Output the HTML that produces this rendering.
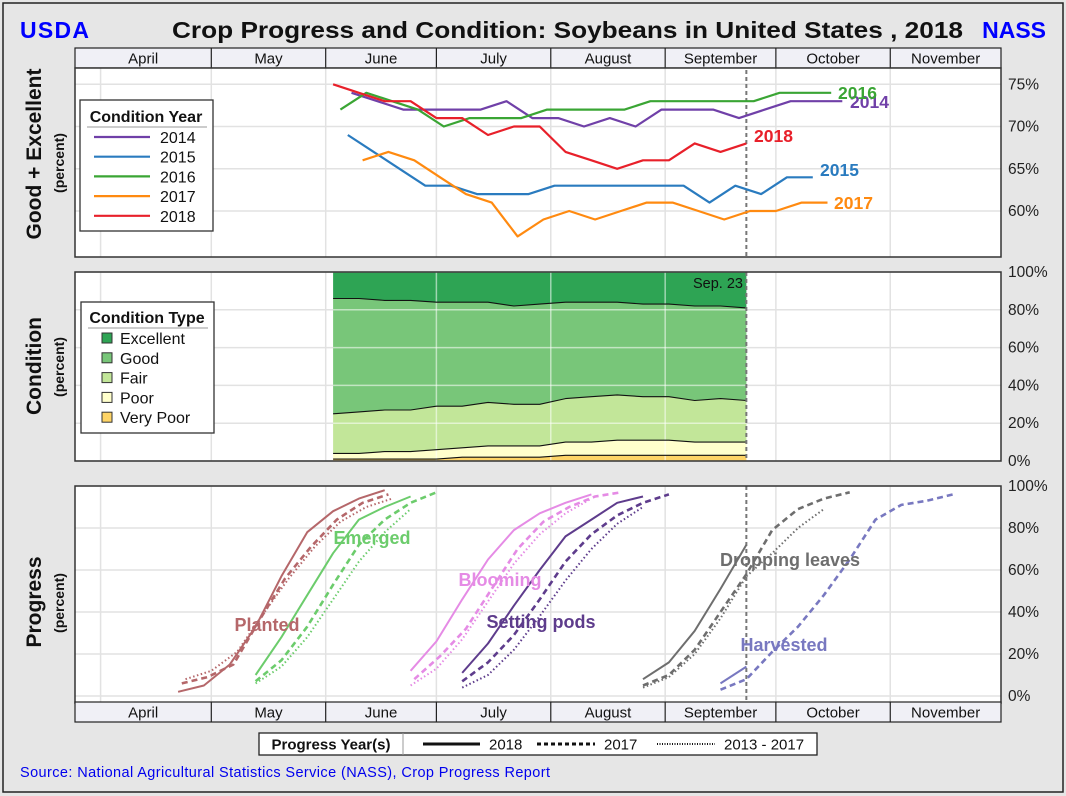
<!DOCTYPE html>
<html><head><meta charset="utf-8"><style>
html,body{margin:0;padding:0;background:#e6e6e6;}
svg{display:block;font-family:"Liberation Sans",Arial,sans-serif;}
</style></head><body>
<svg id="chart" width="1066" height="796" viewBox="0 0 1066 796" xmlns="http://www.w3.org/2000/svg">
<rect x="0" y="0" width="1066" height="796" fill="#e6e6e6"/>
<rect x="3" y="3" width="1060" height="789" fill="none" stroke="#222" stroke-width="1.5"/>
<text x="20" y="38" font-size="23" font-weight="bold" fill="#0000ff" textLength="69">USDA</text>
<text x="1046" y="38" font-size="23" font-weight="bold" fill="#0000ff" text-anchor="end">NASS</text>
<text x="172" y="38" font-size="23" font-weight="bold" fill="#111" textLength="791" lengthAdjust="spacingAndGlyphs">Crop Progress and Condition: Soybeans in United States , 2018</text>
<g id="layer"></g>
<text x="20" y="777" font-size="14.5" fill="#0000ee" textLength="530">Source: National Agricultural Statistics Service (NASS), Crop Progress Report</text>
</svg>
<script>
// ---- data ----
const monthNames = ["April","May","June","July","August","September","October","November"];
const monthStartDoy = [91,121,152,182,213,244,274,305,335];
const cutoffDoy = 266;

const condYears = ["2014","2015","2016","2017","2018"];
const condStart = [159,158,156,162,154];
const cond2014 = [74,73,72,72,72,72,73,71,71,70,71,70,72,72,72,71,72,73,73,73];
const cond2015 = [69,67,65,63,63,62,62,62,63,63,63,63,63,63,61,63,62,64,64];
const cond2016 = [72,74,73,72,70,71,71,71,72,72,72,72,73,73,73,73,73,74,74,74];
const cond2017 = [66,67,66,64,62,61,57,59,60,59,60,61,61,60,59,60,60,61,61];
const cond2018 = [75,74,73,73,71,71,69,70,70,67,66,65,66,66,68,67,68];
const topTicks = [75,70,65,60];

const typeStart = 154;
const veryPoor = [1,1,1,1,1,2,2,2,2,3,3,3,3,3,3,3,3];
const poor = [3,3,4,4,5,5,6,6,6,7,7,8,8,8,7,7,7];
const fair = [21,22,22,22,23,22,23,22,22,23,24,24,23,23,22,23,22];
const good = [61,60,58,58,55,55,53,52,53,51,50,49,49,49,50,49,49];
const excellent = [14,14,15,15,16,16,16,18,17,16,16,16,17,17,18,18,19];
const pctTicks = [100,80,60,40,20,0];

const plantedStart = [112,113,114];
const planted2018 = [2,5,15,33,57,78,88,94,98];
const planted2017 = [6,9,15,36,56,71,84,92,96];
const plantedAvg = [8,12,21,39,56,71,83,90,94];
const emergedStart = [133,133,133];
const emerged2018 = [10,28,48,68,84,90,95];
const emerged2017 = [7,17,33,53,72,84,92,97];
const emergedAvg = [6,14,28,46,64,78,89];
const bloomStart = [175,176,175];
const bloom2018 = [12,26,46,65,79,87,92,96];
const bloom2017 = [8,19,32,51,70,83,90,95,97];
const bloomAvg = [5,13,27,45,63,77,87,94];
const podsStart = [189,189,189];
const pods2018 = [11,25,43,60,76,84,92,95];
const pods2017 = [7,16,29,46,64,77,86,92,96];
const podsAvg = [4,10,22,38,55,70,82,90];
const dropStart = [238,238,238];
const drop2018 = [8,16,31,51,72];
const drop2017 = [5,10,22,40,58,79,89,94,97];
const dropAvg = [4,9,20,37,57,68,80,89];
const harvStart = [259,259];
const harv2018 = [6,14];
const harv2017 = [3,8,21,33,48,65,84,91,93,96];

// ---- scales ----
const L=75, R=1001;
const xS = d => 100.6 + (d-91)*3.69;
const yTop = v => 84.3 + (75-v)*8.45;
const yMid = p => 461 - p*1.89;
const yBot = p => 696 - p*2.1;
const NS="http://www.w3.org/2000/svg";
const layer=document.getElementById('layer');
function mk(tag,attrs,parent){const e=document.createElementNS(NS,tag);for(const k in attrs)e.setAttribute(k,attrs[k]);(parent||layer).appendChild(e);return e;}
function txt(x,y,s,attrs,parent){const e=mk('text',Object.assign({x:x,y:y},attrs),parent);e.textContent=s;return e;}

function monthHeader(y0,name){
  const g=mk('g',{});
  
  
  mk('rect',{x:L,y:y0,width:R-L,height:20,fill:'#f0f0f6',stroke:'#222','stroke-width':1.2},g);
  for(let i=0;i<monthNames.length;i++){
    const a=i===0?L:xS(monthStartDoy[i]);
    const b=i===monthNames.length-1?R:xS(monthStartDoy[i+1]);
    if(i>0) mk('line',{x1:a,x2:a,y1:y0,y2:y0+20,stroke:'#222','stroke-width':1.2},g);
    const t=txt((a+b)/2,y0+15.5,monthNames[i],{'font-size':15,'text-anchor':'middle',fill:'#111'},g);
    
    
  }
}
function panel(y0,y1,ticks,yf,fmt,name){
  const g=mk('g',{});
  
  
  mk('rect',{x:L,y:y0,width:R-L,height:y1-y0,fill:'#fff'},g);
  for(let i=0;i<8;i++){const x=xS(monthStartDoy[i]);mk('line',{x1:x,x2:x,y1:y0,y2:y1,stroke:'#e2e2e2','stroke-width':1.5},g);}
  ticks.forEach(t=>{const y=yf(t);mk('line',{x1:L,x2:R,y1:y,y2:y,stroke:'#e2e2e2','stroke-width':1.5},g);
    const lab=txt(1008,y+5,fmt(t),{'font-size':15.5,fill:'#222'},g);
    
    });
  return g;
}
function frame(y0,y1){mk('rect',{x:L,y:y0,width:R-L,height:y1-y0,fill:'none',stroke:'#333','stroke-width':1.5});}
function cutLine(y0,y1){const l=mk('line',{x1:xS(cutoffDoy),x2:xS(cutoffDoy),y1:y0,y2:y1,stroke:'#777','stroke-width':2,'stroke-dasharray':'4,3'});
  
  }
function poly(start,vals,yf,attrs,name){
  const pts=vals.map((v,i)=>xS(start+i*7).toFixed(1)+','+yf(v).toFixed(1)).join(' ');
  const p=mk('polyline',Object.assign({points:pts,fill:'none','stroke-linejoin':'round'},attrs));
  
  
  return p;
}
function ytitle(x,y,s,size,name){const t=txt(x,y,s,{'font-size':size,'font-weight':'bold',fill:'#111','text-anchor':'middle',transform:'rotate(-90 '+x+' '+y+')'});
  
  }

// ---- top panel ----
monthHeader(48,'top-month-axis');
panel(68,257,topTicks,yTop,t=>t+'%','condition-year-panel');
const condSeries=[cond2014,cond2015,cond2016,cond2017,cond2018];
const condColors=['#7040a8','#2a7bbf','#3aa534','#ff8a10','#e8202a'];
cutLine(70,257);
condSeries.forEach((s,i)=>poly(condStart[i],s,yTop,{stroke:condColors[i],'stroke-width':2.2},'condition-line-'+condYears[i]));
const endLabels=[[850,108,'2014'],[820,176,'2015'],[838,99,'2016'],[834,209,'2017'],[754,142,'2018']];
endLabels.forEach((e,i)=>{const t=txt(e[0],e[1],e[2],{'font-size':17.5,'font-weight':'bold',fill:condColors[i]});
  
  });
frame(68,257);
{
  const g=mk('g',{});
  
  
  mk('rect',{x:80,y:100,width:133,height:131,fill:'#fff',stroke:'#333','stroke-width':1.3},g);
  txt(146,122,'Condition Year',{'font-size':16,'font-weight':'bold','text-anchor':'middle',fill:'#111'},g);
  mk('line',{x1:87,x2:207,y1:127,y2:127,stroke:'#999'},g);
  condYears.forEach((y,i)=>{const yy=137+i*19.7;
    mk('line',{x1:94,x2:150,y1:yy,y2:yy,stroke:condColors[i],'stroke-width':2.2},g);
    const t=txt(160,yy+6,y,{'font-size':16,fill:'#111'},g);
    
    });
}
ytitle(41,154,'Good + Excellent',21,'top-y-axis-title');
ytitle(64,163,'(percent)',14,'top-y-axis-subtitle');

// ---- middle panel ----
panel(272,461,pctTicks,yMid,t=>t+'%','condition-type-panel');
const bands=[veryPoor,poor,fair,good,excellent];
const bandColors=['#fed466','#ffffcc','#c2e699','#78c679','#2ea454'];
const bandNames=['very-poor','poor','fair','good','excellent'];
const n=veryPoor.length;
let lower=new Array(n).fill(0);
bands.forEach((b,bi)=>{
  const upper=lower.map((v,i)=>v+b[i]);
  const top=upper.map((v,i)=>xS(typeStart+i*7).toFixed(1)+','+yMid(v).toFixed(1));
  const bot=lower.map((v,i)=>xS(typeStart+i*7).toFixed(1)+','+yMid(v).toFixed(1)).reverse();
  const p=mk('polygon',{points:top.concat(bot).join(' '),fill:bandColors[bi],stroke:'none'});
  
  
  lower=upper;
});
for(let i=0;i<8;i++){const x=xS(monthStartDoy[i]);if(x>xS(typeStart)&&x<xS(cutoffDoy))mk('line',{x1:x,x2:x,y1:272,y2:461,stroke:'rgba(255,255,255,0.55)','stroke-width':1.5});}
pctTicks.forEach(t=>{const y=yMid(t);mk('line',{x1:xS(typeStart),x2:xS(cutoffDoy),y1:y,y2:y,stroke:'rgba(255,255,255,0.55)','stroke-width':1.5});});
lower=new Array(n).fill(0);
bands.slice(0,4).forEach((b)=>{
  lower=lower.map((v,i)=>v+b[i]);
  poly(typeStart,lower,yMid,{stroke:'#111','stroke-width':1.1},'band-boundary');
});
cutLine(272,461);
{const t=txt(743,288,'Sep. 23',{'font-size':14.5,'text-anchor':'end',fill:'#111'});
 
 }
frame(272,461);
{
  const g=mk('g',{});
  
  
  mk('rect',{x:81,y:302,width:133,height:131,fill:'#fff',stroke:'#333','stroke-width':1.3},g);
  txt(147,323,'Condition Type',{'font-size':16,'font-weight':'bold','text-anchor':'middle',fill:'#111'},g);
  mk('line',{x1:88,x2:208,y1:328,y2:328,stroke:'#999'},g);
  const names=['Excellent','Good','Fair','Poor','Very Poor'];
  names.forEach((nm,i)=>{const yy=338+i*19.8;
    mk('rect',{x:102,y:yy-5,width:10,height:10,fill:bandColors[4-i],stroke:'#333','stroke-width':1},g);
    const t=txt(120,yy+6,nm,{'font-size':16,fill:'#111'},g);
    
    });
}
ytitle(41,366,'Condition',21,'middle-y-axis-title');
ytitle(64,367,'(percent)',14,'middle-y-axis-subtitle');

// ---- bottom panel ----
panel(486,703,pctTicks,yBot,t=>t+'%','progress-panel');
const stages=[
  ['planted','#b5676a',plantedStart,[planted2018,planted2017,plantedAvg]],
  ['emerged','#6ccc6c',emergedStart,[emerged2018,emerged2017,emergedAvg]],
  ['blooming','#e58be5',bloomStart,[bloom2018,bloom2017,bloomAvg]],
  ['setting-pods','#5e3c8c',podsStart,[pods2018,pods2017,podsAvg]],
  ['dropping-leaves','#6e6e6e',dropStart,[drop2018,drop2017,dropAvg]],
  ['harvested','#7878c0',harvStart,[harv2018,harv2017]]
];
const styles=[{'stroke-width':2},{'stroke-width':2.6,'stroke-dasharray':'6,4'},{'stroke-width':2,'stroke-dasharray':'1.5,2.5'}];
const styleNames=['2018','2017','avg'];
cutLine(486,703);
stages.forEach(st=>{st[3].forEach((vals,k)=>poly(st[2][k],vals,yBot,Object.assign({stroke:st[1]},styles[k]),st[0]+'-line-'+styleNames[k]));});
const stageLabels=[['Planted',267,631,'#b5676a'],['Emerged',372,544,'#6ccc6c'],['Blooming',500,586,'#e58be5'],['Setting pods',541,628,'#5e3c8c'],['Dropping leaves',790,566,'#6e6e6e'],['Harvested',784,651,'#7878c0']];
stageLabels.forEach(s=>{const t=txt(s[1],s[2],s[0],{'font-size':18,'font-weight':'bold','text-anchor':'middle',fill:s[3]});
  
  });
frame(486,703);
monthHeader(702,'bottom-month-axis');
ytitle(41,602,'Progress',21,'bottom-y-axis-title');
ytitle(64,603,'(percent)',14,'bottom-y-axis-subtitle');

// ---- progress legend ----
{
  const g=mk('g',{});
  
  
  mk('rect',{x:259,y:733,width:558,height:22,fill:'#fff',stroke:'#222','stroke-width':1.3},g);
  txt(331,749.5,'Progress Year(s)',{'font-size':15,'font-weight':'bold','text-anchor':'middle',fill:'#111'},g);
  mk('line',{x1:403,x2:403,y1:733,y2:755,stroke:'#999'},g);
  const items=[[423,480,'2018',{'stroke-width':3}],[537,595,'2017',{'stroke-width':3,'stroke-dasharray':'4,3'}],[657,715,'2013 - 2017',{'stroke-width':2,'stroke-dasharray':'1,1.5'}]];
  items.forEach(it=>{mk('line',Object.assign({x1:it[0],x2:it[1],y1:744,y2:744,stroke:'#111'},it[3]),g);
    const t=txt(it[1]+9,749.5,it[2],{'font-size':15,fill:'#111'},g);
    
    });
}
</script>
</body></html>
